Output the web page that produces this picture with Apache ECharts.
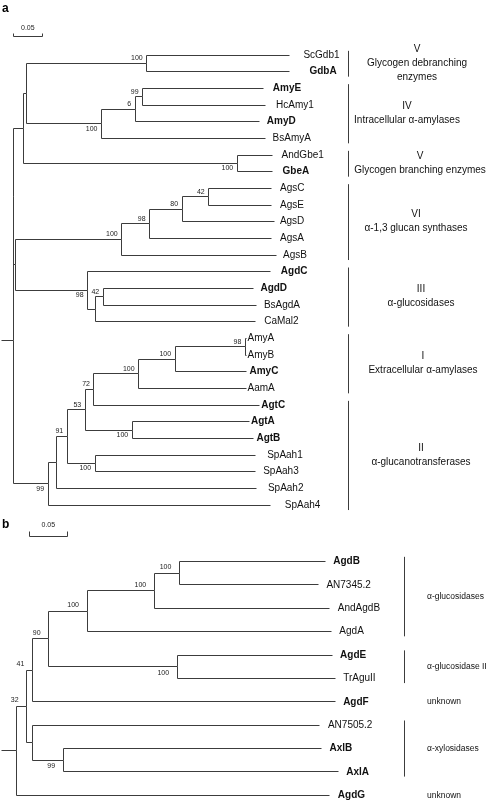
<!DOCTYPE html>
<html><head><meta charset="utf-8">
<script src="https://cdn.jsdelivr.net/npm/echarts@6/dist/echarts.min.js"></script>
<style>html,body{margin:0;padding:0;background:#fff}#c{width:488px;height:807px}</style>
</head><body><div id="c"></div>
<script>
// ===== Tree a: leaves (top to bottom) and their distance from the root =====
const leavesA = ['ScGdb1','GdbA','AmyE','HcAmy1','AmyD','BsAmyA','AndGbe1','GbeA','AgsC','AgsE','AgsD','AgsA','AgsB','AgdC','AgdD','BsAgdA','CaMal2','AmyA','AmyB','AmyC','AamA','AgtC','AgtA','AgtB','SpAah1','SpAah3','SpAah2','SpAah4'];
const leafDepthA = [0.476,0.476,0.432,0.434,0.425,0.435,0.447,0.447,0.446,0.446,0.451,0.446,0.453,0.444,0.414,0.420,0.417,0.402,0.402,0.402,0.402,0.424,0.408,0.414,0.417,0.417,0.420,0.444];
const boldA = ['GdbA','AmyE','AmyD','GbeA','AgdC','AgdD','AmyC','AgtC','AgtA','AgtB'];
// internal nodes of tree a
const nodeNamesA = ['n1','n2','n3','n4','n5','n6','n7','n8','n9','n10','n11','n12','n13','n14','n15','n16','n17','n18','n19','n20','n21','n22','n23','n24','n25','n26','rootA'];
const nodeChildrenA = [['ScGdb1','GdbA'],['AmyE','HcAmy1'],['n2','AmyD'],['n3','BsAmyA'],['n1','n4'],['AndGbe1','GbeA'],['n5','n6'],['AgsC','AgsE'],['n8','AgsD'],['n9','AgsA'],['n10','AgsB'],['AgdD','BsAgdA'],['n12','CaMal2'],['AgdC','n13'],['n11','n14'],['n7','n15'],['AmyA','AmyB'],['n17','AmyC'],['n18','AamA'],['n19','AgtC'],['AgtA','AgtB'],['n20','n21'],['SpAah1','SpAah3'],['n22','n23'],['n24','SpAah2'],['n25','SpAah4'],['n16','n26']];
const nodeDepthA = [0.230,0.223,0.210,0.152,0.023,0.386,0.017,0.337,0.291,0.235,0.187,0.155,0.142,0.128,0.003,0.001,0.400,0.279,0.216,0.139,0.205,0.124,0.141,0.093,0.075,0.060,0];
const nodeSupportA = [100,99,6,100,null,100,null,42,80,98,100,42,null,98,null,null,98,100,100,72,100,53,100,91,null,99,null];
const groupFirstA = ['ScGdb1','AmyE','AndGbe1','AgsC','AgdC','AmyA','AgtC'];
const groupLastA = ['GdbA','BsAmyA','GbeA','AgsB','CaMal2','AamA','SpAah4'];
const groupTextA = ['V\nGlycogen debranching\nenzymes','IV\nIntracellular α-amylases','V\nGlycogen branching enzymes','VI\nα-1,3 glucan synthases','III\nα-glucosidases','I\nExtracellular α-amylases','II\nα-glucanotransferases'];

// ===== Tree b =====
const leavesB = ['AgdB','AN7345.2','AndAgdB','AgdA','AgdE','TrAguII','AgdF','AN7505.2','AxlB','AxlA','AgdG'];
const leafDepthB = [0.406,0.397,0.412,0.414,0.415,0.419,0.419,0.399,0.401,0.423,0.412];
const boldB = ['AgdB','AgdE','AgdF','AxlB','AxlA','AgdG'];
const nodeNamesB = ['b1','b2','b3','b4','b5','b6','b7','b8','b9','rootB'];
const nodeChildrenB = [['AgdB','AN7345.2'],['b1','AndAgdB'],['b2','AgdA'],['AgdE','TrAguII'],['b3','b4'],['b5','AgdF'],['AxlB','AxlA'],['AN7505.2','b7'],['b6','b8'],['b9','AgdG']];
const nodeDepthB = [0.214,0.181,0.0925,0.211,0.042,0.0205,0.061,0.0205,0.013,0];
const nodeSupportB = [100,100,100,100,90,41,99,null,32,null];
const groupFirstB = ['AgdB','AgdE','AgdF','AN7505.2','AgdG'];
const groupLastB = ['AgdA','TrAguII','AgdF','AxlA','AgdG'];
const groupTextB = ['α-glucosidases','α-glucosidase II','unknown','α-xylosidases','unknown'];

const scaleBarLen = 0.05;
const rootStem = 0.02;

// ===== layout (pixels) =====
const labelGapA = [14,20,9,11,7,7,9,10,8,8,5,8,7,10,7,7,9,1,1,3,1,2,1,3,12,8,11,14];
const labelGapB = [8,8,8,8,8,8,8,8,8,8,8];
const groupCenterA = [417,407,420,416,421,423,421];
const groupCenterB = [427,427,427,427,427];

const FONT = '"Liberation Sans", Arial, Helvetica, sans-serif';
const LINE = '#3c3c3c';
function crisp(v){ return Math.round(v - 0.5) + 0.5; }

function layout(leaves, leafDepth, names, children, depth, support){
  const pos = {}; const parent = {};
  leaves.forEach((n,i)=>{ pos[n] = {x: leafDepth[i], y: i}; });
  names.forEach((n,k)=>{
    const ys = children[k].map(c=>pos[c].y);
    pos[n] = {x: depth[k], y: (Math.min(...ys)+Math.max(...ys))/2};
    children[k].forEach(c=>{ parent[c] = n; });
  });
  const edges = [];
  names.forEach((n,k)=>children[k].forEach(c=>edges.push([pos[n].x,pos[n].y,pos[c].x,pos[c].y])));
  const root = names[names.length-1];
  const labels = [];
  names.forEach((n,k)=>{
    if (support[k] == null) return;
    const p = pos[parent[n]];
    labels.push({x: pos[n].x, y: pos[n].y, text: String(support[k]), above: pos[n].y < p.y});
  });
  return {pos, edges, labels, root: pos[root]};
}

function treeSeries(idx, T, leaves, leafDepth, bold, gFirst, gLast, gText, opt){
  const S = [];
  S.push({type:'custom', xAxisIndex:idx, yAxisIndex:idx, silent:true, animation:false,
    data: T.edges.concat([[T.root.x - rootStem, T.root.y, T.root.x, T.root.y]]),
    renderItem(params, api){
      const a = api.coord([api.value(0), api.value(1)]);
      const b = api.coord([api.value(0), api.value(3)]);
      const c = api.coord([api.value(2), api.value(3)]);
      const pts = [[crisp(a[0]),crisp(a[1])],[crisp(b[0]),crisp(b[1])],[crisp(c[0]),crisp(c[1])]];
      return {type:'polyline', shape:{points:pts}, style:{stroke:LINE, lineWidth:1, fill:null}};
    }});
  S.push({type:'custom', xAxisIndex:idx, yAxisIndex:idx, silent:true, animation:false,
    data: leaves.map((n,i)=>[leafDepth[i], i]),
    renderItem(params, api){
      const i = params.dataIndex; const p = api.coord([api.value(0), api.value(1)]);
      const isB = bold.indexOf(leaves[i]) >= 0;
      return {type:'text', x: p[0] + opt.leafGap[i], y: p[1], style:{text: leaves[i], fontSize: 10, fontFamily: FONT, fontWeight: isB?'bold':'normal', fill:'#111', align:'left', verticalAlign:'middle'}};
    }});
  S.push({type:'custom', xAxisIndex:idx, yAxisIndex:idx, silent:true, animation:false,
    data: T.labels.map(l=>[l.x, l.y]),
    renderItem(params, api){
      const l = T.labels[params.dataIndex]; const p = api.coord([api.value(0), api.value(1)]);
      return {type:'text', x: p[0] - opt.supGap, y: l.above ? p[1] - opt.supUp : p[1] + opt.supDown,
        style:{text: l.text, fontSize: 7, fontFamily: FONT, fill:'#222', align:'right', verticalAlign: l.above?'bottom':'top'}};
    }});
  S.push({type:'custom', xAxisIndex:idx, yAxisIndex:idx, silent:true, animation:false,
    data: gFirst.map((f,k)=>[0, leaves.indexOf(f), leaves.indexOf(gLast[k])]),
    renderItem(params, api){
      const k = params.dataIndex;
      const y0 = api.coord([0, api.value(1) - opt.barPadTop])[1];
      const y1 = api.coord([0, api.value(2) + opt.barPadBot])[1];
      const ym = api.coord([0, (api.value(1) + api.value(2))/2])[1];
      const children = [];
      if (api.value(2) > api.value(1)) {
        children.push({type:'line', shape:{x1:crisp(opt.barX), y1:y0, x2:crisp(opt.barX), y2:y1}, style:{stroke:LINE, lineWidth:1}});
      }
      children.push({type:'text', x: opt.textX[k], y: ym, style:{text: gText[k], fontSize: opt.groupFont, lineHeight: 14, fontFamily: FONT, fill:'#111', align: opt.textAlign, verticalAlign:'middle'}});
      return {type:'group', children};
    }});
  S.push({type:'custom', xAxisIndex:idx, yAxisIndex:idx, silent:true, animation:false,
    data: [[opt.sbStart, opt.sbY]],
    renderItem(params, api){
      const a = api.coord([api.value(0), api.value(1)]);
      const b = api.coord([api.value(0) + scaleBarLen, api.value(1)]);
      const x0 = crisp(a[0]), x1 = crisp(b[0]), y = crisp(a[1]);
      return {type:'group', children:[
        {type:'polyline', shape:{points:[[x0,y-opt.sbTick],[x0,y],[x1,y],[x1,y-opt.sbTick]]}, style:{stroke:LINE, lineWidth:1, fill:null}},
        {type:'text', x:(a[0]+b[0])/2, y: y - opt.sbLabel, style:{text: String(scaleBarLen), fontSize:7, fontFamily:FONT, fill:'#222', align:'center', verticalAlign:'middle'}}
      ]};
    }});
  return S;
}

const TA = layout(leavesA, leafDepthA, nodeNamesA, nodeChildrenA, nodeDepthA, nodeSupportA);
const TB = layout(leavesB, leafDepthB, nodeNamesB, nodeChildrenB, nodeDepthB, nodeSupportB);

const series = [].concat(
  treeSeries(0, TA, leavesA, leafDepthA, boldA, groupFirstA, groupLastA, groupTextA,
    {leafGap:labelGapA, supGap:4, supUp:1.5, supDown:1.5, barX:348, barPadTop:0.25, barPadBot:0.3, textX:groupCenterA, textAlign:'center', groupFont:10, sbStart:0, sbY:-1.1, sbTick:3, sbLabel:8}),
  treeSeries(1, TB, leavesB, leafDepthB, boldB, groupFirstB, groupLastB, groupTextB,
    {leafGap:labelGapB, supGap:8, supUp:2.5, supDown:2.5, barX:404, barPadTop:0.2, barPadBot:0.2, textX:groupCenterB, textAlign:'left', groupFont:8.5, sbStart:0.0166, sbY:-1.05, sbTick:5, sbLabel:11})
);

const chart = echarts.init(document.getElementById('c'));
chart.setOption({
  animation:false,
  backgroundColor:'#fff',
  grid:[
    {left:1.7, top:5, width:475.6, height:516.7},
    {left:1.5, top:514.76, width:471.2, height:297.1}
  ],
  xAxis:[
    {type:'value', gridIndex:0, min:-0.02, max:0.8, show:false},
    {type:'value', gridIndex:1, min:-0.02, max:0.6, show:false}
  ],
  yAxis:[
    {type:'value', gridIndex:0, min:-3, max:28, inverse:true, show:false},
    {type:'value', gridIndex:1, min:-2, max:10.5, inverse:true, show:false}
  ],
  graphic:[
    {type:'text', left:2, top:3, style:{text:'a', fontSize:12, fontWeight:'bold', fontFamily:FONT, fill:'#000'}},
    {type:'text', left:2, top:519, style:{text:'b', fontSize:12, fontWeight:'bold', fontFamily:FONT, fill:'#000'}}
  ],
  series
});
</script>
</body></html>
